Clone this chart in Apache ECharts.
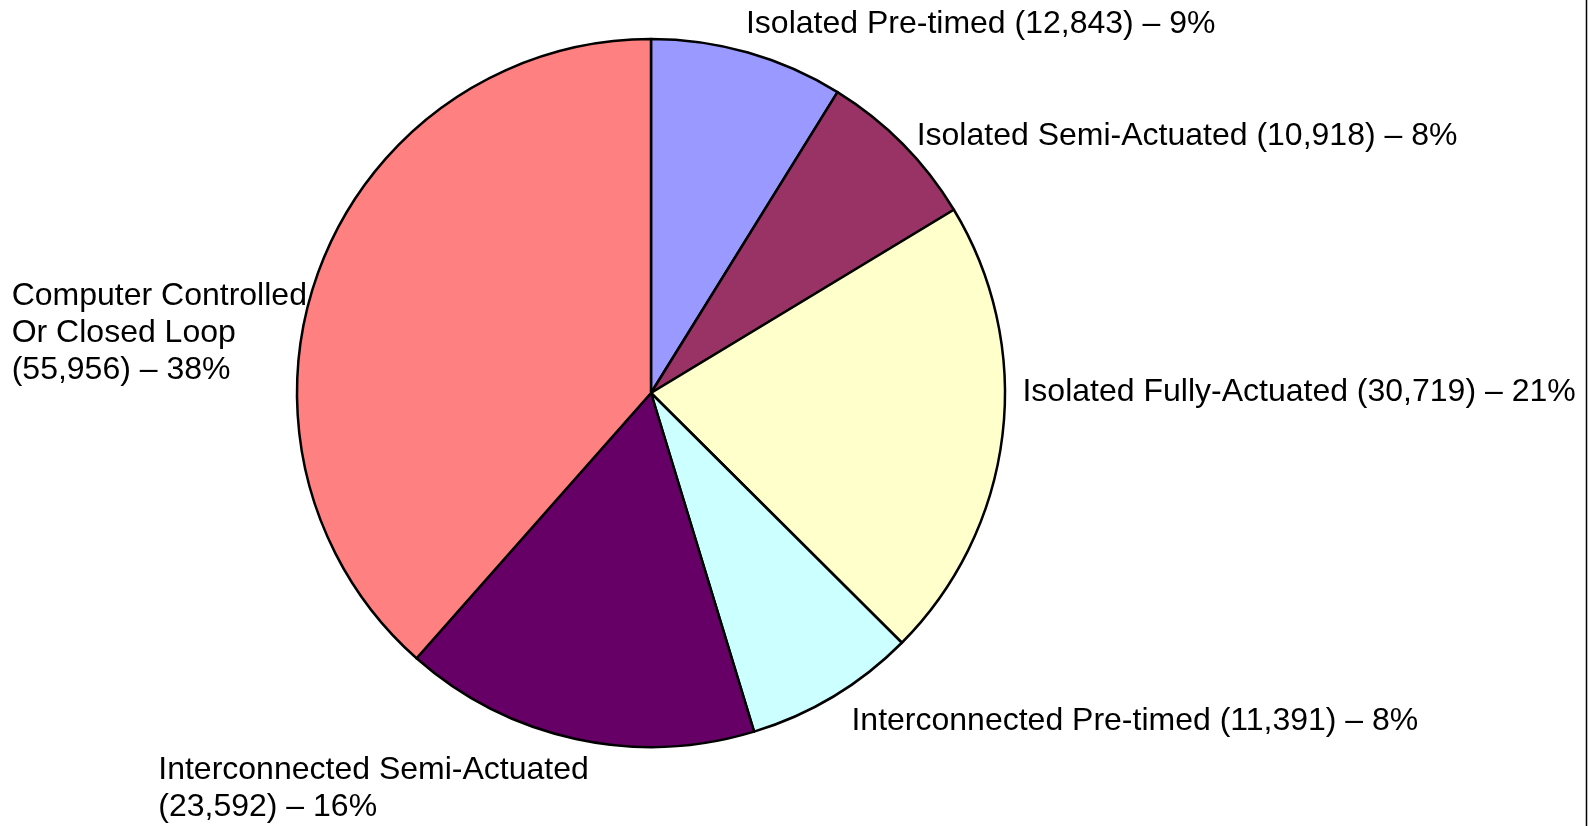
<!DOCTYPE html>
<html>
<head>
<meta charset="utf-8">
<script src="https://cdn.jsdelivr.net/npm/echarts@6/dist/echarts.min.js"></script>
<style>
html,body{margin:0;padding:0;background:#fff;}
#chart{width:1596px;height:826px;}
</style>
</head>
<body>
<div id="chart"></div>
<script>
// ---- data ----
var categories = [
  'Isolated Pre-timed',
  'Isolated Semi-Actuated',
  'Isolated Fully-Actuated',
  'Interconnected Pre-timed',
  'Interconnected Semi-Actuated',
  'Computer Controlled\nOr Closed Loop'
];
var values = [12843, 10918, 30719, 11391, 23592, 55956];
var colors = ['#9999FF', '#993366', '#FFFFCC', '#CCFFFF', '#660066', '#FF8080'];
// whether the value part goes on a new line
var valueOnNewLine = [false, false, false, false, true, true];

// ---- layout ----
var CX = 651, CY = 393, R = 354;
// label nudges relative to the slice's outer mid-point
var labelNudge = [[-2, -28], [14, -8], [20, -43], [18, 25], [13, 50], [-13, 66]];

var total = values.reduce(function (a, b) { return a + b; }, 0);
var midAngles = [];
(function () {
  var cum = 0;
  for (var i = 0; i < values.length; i++) {
    var mid = (cum + values[i] / 2) / total;
    midAngles.push((90 - mid * 360) * Math.PI / 180);
    cum += values[i];
  }
})();

function fmt(n) { return n.toLocaleString('en-US'); }

var chart = echarts.init(document.getElementById('chart'), null, { renderer: 'canvas' });
chart.setOption({
  animation: false,
  backgroundColor: '#ffffff',
  graphic: [{
    type: 'line',
    shape: { x1: 1586.5, y1: 0, x2: 1586.5, y2: 826 },
    style: { stroke: '#000', lineWidth: 1.5 }
  }],
  series: [{
    type: 'pie',
    center: [CX, CY],
    radius: [0, R],
    startAngle: 90,
    clockwise: true,
    avoidLabelOverlap: false,
    itemStyle: { borderColor: '#000', borderWidth: 2.5 },
    emphasis: { disabled: true },
    labelLine: { show: false },
    label: {
      show: true,
      position: 'outside',
      color: '#000',
      fontFamily: 'Liberation Sans, Arial, sans-serif',
      fontSize: 32,
      lineHeight: 37,
      formatter: function (p) {
        var i = p.dataIndex;
        return p.name + (valueOnNewLine[i] ? '\n' : ' ') + '(' + fmt(p.value) + ') \u2013 ' + Math.round(p.percent) + '%';
      }
    },
    labelLayout: function (p) {
      var i = p.dataIndex;
      var a = midAngles[i];
      var px = CX + R * Math.cos(a);
      var py = CY - R * Math.sin(a);
      var x = px + labelNudge[i][0];
      if (Math.cos(a) < 0) x -= p.labelRect.width;
      return { x: x, y: py + labelNudge[i][1], align: 'left', verticalAlign: 'middle' };
    },
    data: categories.map(function (c, i) {
      return { name: c, value: values[i], itemStyle: { color: colors[i] } };
    })
  }]
});
</script>
</body>
</html>
